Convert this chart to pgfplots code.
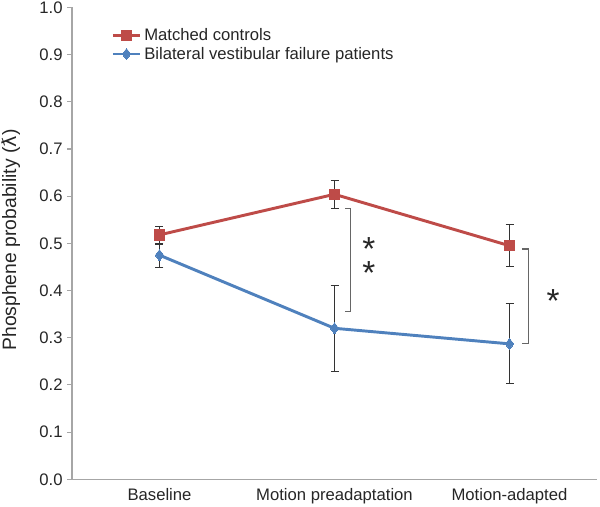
\documentclass[border=0pt]{standalone}
\usepackage{pgfplots}
\pgfplotsset{compat=1.18}
\usepackage{fontspec}
\setmainfont{Liberation Sans}
\newfontfamily\dv{DejaVu Sans}
\definecolor{cred}{HTML}{BE4B48}
\definecolor{cblue}{HTML}{4F81BD}
\definecolor{axgray}{HTML}{A6A6A6}
\begin{document}
\begin{tikzpicture}
\begin{axis}[
  name=ax,
  scale only axis,
  width=393.75pt, height=353.85pt,
  xmin=-0.5, xmax=2.5, ymin=0, ymax=1,
  axis lines*=left,
  axis line style={axgray, line width=0.8pt},
  xtick={0,1,2},
  xticklabels={Baseline, Motion preadaptation, Motion-adapted},
  x tick style={draw=none},
  extra x ticks={0.5,1.5,2.5},
  extra x tick labels={},
  extra x tick style={tick align=inside, major tick length=4pt, tick style={axgray, line width=0.8pt}},
  ytick={0,0.1,...,1.0},
  y tick style={axgray, line width=0.8pt},
  tick align=outside, major tick length=3.5pt,
  yticklabel style={/pgf/number format/.cd, fixed, fixed zerofill, precision=1, assume math mode=true},
  ticklabel style={font=\fontsize{12.5}{14}\selectfont, text=black!85},
  ylabel={Phosphene probability ({\dv ƛ})},
  every axis y label/.style={at={(rel axis cs:0,0.507)}, rotate=90, anchor=center, yshift=46pt, font=\fontsize{14.5}{16}\selectfont, text=black!85},
  legend style={draw=none, fill=none, at={(rel axis cs:0.072,0.965)}, anchor=north west,
    font=\fontsize{12.5}{14}\selectfont, text=black!85, row sep=-0.5pt, inner sep=1pt,
    cells={anchor=west}},
  legend cell align=left,
  legend image code/.code={\draw[mark repeat=2,mark phase=2] plot coordinates {(0cm,0cm)(0.36cm,0cm)(0.72cm,0cm)};},
  clip=false,
]
\coordinate (ll) at (rel axis cs:0,0);
\coordinate (ur) at (rel axis cs:1,1);
\addplot[color=cred, line width=2.2pt, mark=square*, mark size=3.9pt, mark options={line width=0pt, fill=cred},
  error bars/.cd, y dir=both, y explicit,
  error bar style={black!80, line width=0.7pt},
  error mark options={rotate=90, mark size=3pt, black!80, line width=0.7pt}]
coordinates {
  (0,0.518) += (0,0.017) -= (0,0.019)
  (1,0.604) += (0,0.030) -= (0,0.031)
  (2,0.495) += (0,0.045) -= (0,0.043)
};
\addlegendentry{Matched controls}
\addplot[color=cblue, line width=2.2pt, mark=diamond*, mark size=4.2pt, mark options={line width=0pt, fill=cblue},
  error bars/.cd, y dir=both, y explicit,
  error bar style={black!80, line width=0.7pt},
  error mark options={rotate=90, mark size=3pt, black!80, line width=0.7pt}]
coordinates {
  (0,0.475) += (0,0.023) -= (0,0.026)
  (1,0.320) += (0,0.091) -= (0,0.091)
  (2,0.287) += (0,0.086) -= (0,0.085)
};
\addlegendentry{Bilateral vestibular failure patients}
\draw[black!60, line width=0.8pt] (axis cs:1.060,0.573) -- (axis cs:1.094,0.573) -- (axis cs:1.094,0.356) -- (axis cs:1.060,0.356);
\draw[black!60, line width=0.8pt] (axis cs:2.071,0.488) -- (axis cs:2.111,0.488) -- (axis cs:2.111,0.287) -- (axis cs:2.071,0.287);
\node[font=\fontsize{25}{10.7}\selectfont, text=black!85, align=center, inner sep=0pt] at (axis cs:1.197,0.462) {*\\*};
\node[font=\fontsize{25}{25}\selectfont, text=black!85, inner sep=0pt] at (axis cs:2.249,0.378) {*};
\end{axis}
\pgfresetboundingbox
\path ([shift={(-54pt,-20.8pt)}]ll) rectangle ([shift={(2.25pt,5.6pt)}]ur);
\end{tikzpicture}
\end{document}
